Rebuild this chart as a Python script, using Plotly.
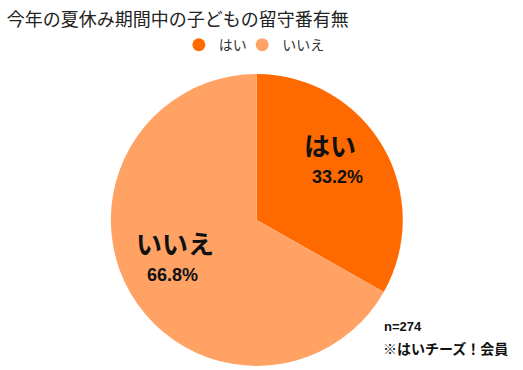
import plotly.graph_objects as go

labels = ["はい", "いいえ"]
values = [33.2, 66.8]
colors = ["#FF6A00", "#FFA264"]
title_text = "今年の夏休み期間中の子どもの留守番有無"
note_lines = ["n=274", "※はいチーズ！会員"]

FONT = "Noto Sans CJK JP"
NUMFONT = "Liberation Sans"

# label placement (paper coords) for each slice: (label x, label bottom y, pct x, pct top y)
label_pos = [(0.631, 0.554, 0.646, 0.554), (0.335, 0.289, 0.329, 0.289)]
legend_x = [0.342, 0.463]

fig = go.Figure()
fig.add_trace(go.Pie(
    labels=labels,
    values=values,
    sort=False,
    direction="clockwise",
    rotation=0,
    marker=dict(colors=colors, line=dict(width=0)),
    textinfo="none",
    showlegend=False,
    domain=dict(x=[0.21, 0.772], y=[0.011, 0.8]),
    hoverinfo="label+percent",
))
legend_names = ["legend", "legend2"]
for lab, col, lg in zip(labels, colors, legend_names):
    fig.add_trace(go.Scatter(x=[None], y=[None], mode="markers", name=lab, legend=lg,
                             marker=dict(symbol="circle", size=13, color=col)))

annotations = []
for lab, val, (lx, ly, px, py) in zip(labels, values, label_pos):
    annotations.append(dict(text=f"<b>{lab}</b>", x=lx, y=ly, xref="paper", yref="paper",
                            xanchor="center", yanchor="bottom", showarrow=False,
                            font=dict(size=26, family=FONT, color="#111111")))
    annotations.append(dict(text=f"<b>{val:.1f}%</b>", x=px, y=py, xref="paper", yref="paper",
                            xanchor="center", yanchor="top", showarrow=False,
                            font=dict(size=18, family=NUMFONT, color="#111111")))
annotations.append(dict(text=f"<b>{note_lines[0]}</b>", x=0.731, y=0.0919, xref="paper", yref="paper",
                        xanchor="left", yanchor="bottom", showarrow=False,
                        font=dict(size=13, family=NUMFONT, color="#111111")))
annotations.append(dict(text=f"<b>{note_lines[1]}</b>", x=0.728, y=0.0919, xref="paper", yref="paper",
                        xanchor="left", yanchor="top", showarrow=False,
                        font=dict(size=14, family=FONT, color="#111111")))

leg_common = dict(orientation="h", xanchor="left", y=0.878, yanchor="middle",
                  font=dict(size=14, family=FONT, color="#333333"),
                  bgcolor="rgba(0,0,0,0)")

fig.update_layout(
    width=523, height=370,
    margin=dict(l=0, r=0, t=0, b=0),
    paper_bgcolor="white",
    plot_bgcolor="white",
    font=dict(family=FONT, color="#111111"),
    xaxis=dict(visible=False),
    yaxis=dict(visible=False),
    title=dict(text=title_text, x=0.013, xanchor="left", y=0.948, yanchor="middle",
               font=dict(size=18, family=FONT, color="#222222")),
    legend=dict(x=legend_x[0], **leg_common),
    legend2=dict(x=legend_x[1], **leg_common),
    annotations=annotations,
)

fig.write_html("out.html", config={"displayModeBar": False},
               post_script="document.body.style.margin='0';")
